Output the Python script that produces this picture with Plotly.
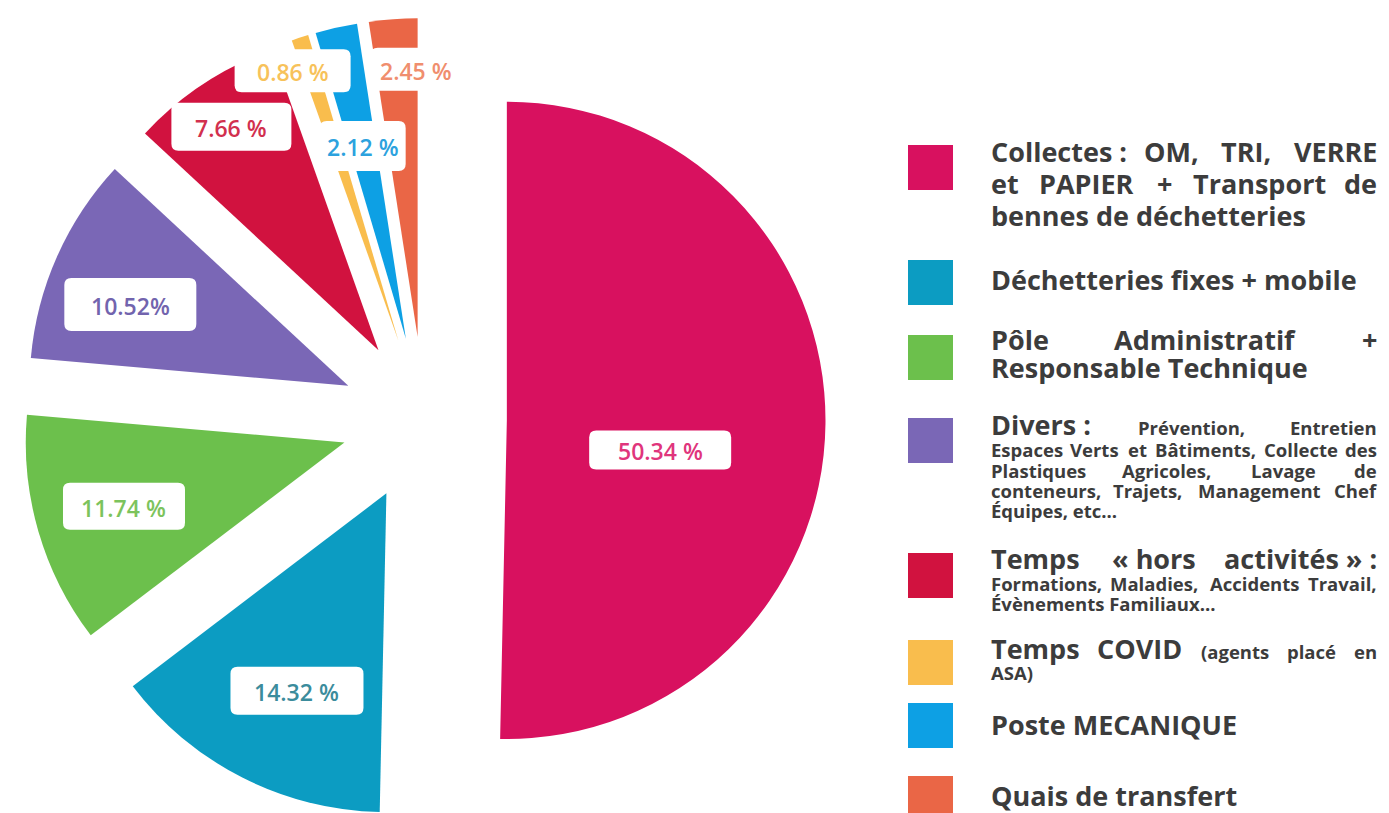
import math
import plotly.graph_objects as go

# ---------------- data ----------------
categories = [
    "Collectes : OM, TRI, VERRE et PAPIER + Transport de bennes de déchetteries",
    "Déchetteries fixes + mobile",
    "Pôle Administratif + Responsable Technique",
    "Divers",
    "Temps « hors activités »",
    "Temps COVID",
    "Poste MECANIQUE",
    "Quais de transfert",
]
values = [50.34, 14.32, 11.74, 10.52, 7.66, 0.86, 2.12, 2.45]
value_labels = ["50.34 %", "14.32 %", "11.74 %", "10.52%", "7.66 %", "0.86 %", "2.12 %", "2.45 %"]

# ---------------- styles ----------------
slice_colors = ["#D8115F", "#0C9CC2", "#6CC04C", "#7A67B6", "#D1123F", "#F9BD4D", "#0DA0E4", "#EA6646"]
label_colors = ["#E0357C", "#3B8C9C", "#7CC35C", "#7264AE", "#D2304E", "#F7C25A", "#2CA2DE", "#F08E6E"]
# label placement relative to each pulled slice: (angle offset in deg, fraction of radius)
label_angle_offset = [10.3, -2.6, 0, -3.5, 0, -3.4, 0, 4.0]
label_radius_frac = [0.49, 0.68, 0.72, 0.73, 0.84, 0.91, 0.62, 0.84]
label_box = [(142, 39), (133, 48), (122, 47), (132, 53), (120, 48), (116, 43), (86, 50), (90, 43)]

W, H = 1389, 813
PULL = 0.26
dom_x = [14.5 / W, 817.5 / W]
dom_y = [0.0, 1 - 10 / H]

fig = go.Figure()
fig.add_trace(go.Pie(
    labels=categories,
    values=values,
    sort=False,
    direction="clockwise",
    rotation=0,
    pull=[PULL] * len(values),
    textinfo="none",
    marker=dict(colors=slice_colors, line=dict(width=0)),
    domain=dict(x=dom_x, y=dom_y),
    showlegend=False,
    hovertemplate="%{label}: %{value} %<extra></extra>",
))


def P(x, y):
    return f"{x / W:.6f},{1 - y / H:.6f}"


def rounded_rect(x0, y0, x1, y1, rad):
    return (f"M {P(x0 + rad, y0)} L {P(x1 - rad, y0)} Q {P(x1, y0)} {P(x1, y0 + rad)} "
            f"L {P(x1, y1 - rad)} Q {P(x1, y1)} {P(x1 - rad, y1)} "
            f"L {P(x0 + rad, y1)} Q {P(x0, y1)} {P(x0, y1 - rad)} "
            f"L {P(x0, y0 + rad)} Q {P(x0, y0)} {P(x0 + rad, y0)} Z")


# pie geometry (same formula plotly uses) to place value boxes
boxW = W * (dom_x[1] - dom_x[0])
boxH = H * (dom_y[1] - dom_y[0])
r = min(boxW, boxH) / (2 + 2 * PULL)
cx = W * (dom_x[0] + dom_x[1]) / 2
cy = H * (1 - dom_y[0]) - boxH / 2
total = sum(values)
cum = 0.0
annotations = []
shapes = []
for i, v in enumerate(values):
    mid = (cum + v / 2) / total * 360.0
    cum += v
    t = math.radians(mid)
    tipx = cx + PULL * r * math.sin(t)
    tipy = cy - PULL * r * math.cos(t)
    la = math.radians(mid + label_angle_offset[i])
    px = tipx + label_radius_frac[i] * r * math.sin(la)
    py = tipy - label_radius_frac[i] * r * math.cos(la)
    bw, bh = label_box[i]
    shapes.append(dict(
        type="path", xref="paper", yref="paper",
        path=rounded_rect(px - bw / 2, py - bh / 2, px + bw / 2, py + bh / 2, 7),
        fillcolor="white", line=dict(width=0), layer="above",
    ))
    annotations.append(dict(
        x=px / W, y=1 - (py + 1.5) / H, xref="paper", yref="paper",
        text=value_labels[i], showarrow=False,
        xanchor="center", yanchor="middle",
        font=dict(family="Open Sans", size=23, weight=600, color=label_colors[i]),
    ))

# ---------------- custom legend ----------------
BIG, SMALL = 27, 18.5
legend_swatch_tops = [137, 252, 327, 410, 545, 632, 695, 768]
SW_X0, SW_SIZE = 900, 45
TX0, TX1 = 982, 1370
TEXT_COLOR = "#3C3C3C"

# each line: (baseline y, [(text, size), ...], justified)
legend_lines = [
    (154, [("Collectes :", BIG), ("OM,", BIG), ("TRI,", BIG), ("VERRE", BIG)], True),
    (186, [("et", BIG), ("PAPIER", BIG), ("+", BIG), ("Transport", BIG), ("de", BIG)], True),
    (218, [("bennes de déchetteries", BIG)], False),
    (282, [("Déchetteries fixes + mobile", BIG)], False),
    (342, [("Pôle", BIG), ("Administratif", BIG), ("+", BIG)], True),
    (370, [("Responsable Technique", BIG)], False),
    (427, [("Divers :", BIG), ("Prévention,", SMALL), ("Entretien", SMALL)], True),
    (449, [("Espaces", SMALL), ("Verts", SMALL), ("et", SMALL), ("Bâtiments,", SMALL), ("Collecte", SMALL), ("des", SMALL)], True),
    (470, [("Plastiques", SMALL), ("Agricoles,", SMALL), ("Lavage", SMALL), ("de", SMALL)], True),
    (490, [("conteneurs,", SMALL), ("Trajets,", SMALL), ("Management", SMALL), ("Chef", SMALL)], True),
    (510, [("Équipes, etc...", SMALL)], False),
    (561, [("Temps", BIG), ("« hors", BIG), ("activités » :", BIG)], True),
    (583, [("Formations,", SMALL), ("Maladies,", SMALL), ("Accidents", SMALL), ("Travail,", SMALL)], True),
    (603, [("Évènements Familiaux...", SMALL)], False),
    (651, [("Temps", BIG), ("COVID", BIG), ("(agents", SMALL), ("placé", SMALL), ("en", SMALL)], True),
    (672, [("ASA)", SMALL)], False),
    (727, [("Poste MECANIQUE", BIG)], False),
    (798, [("Quais de transfert", BIG)], False),
]

# approximate Open Sans Bold advance widths (em)
CW = {" ": 0.26, "(": 0.35, ")": 0.35, "+": 0.57, ",": 0.29, ".": 0.29, ":": 0.29, "%": 0.90,
      "«": 0.55, "»": 0.55}
for ch, w in zip("ABCDEFGHIJKLMNOPQRSTUVWXYZ",
                 [.69, .68, .63, .73, .56, .54, .72, .76, .33, .29, .66, .56, .93, .80, .78, .64, .78, .67, .56, .58, .75, .66, 1.0, .66, .62, .57]):
    CW[ch] = w
for ch, w in zip("abcdefghijklmnopqrstuvwxyz",
                 [.58, .62, .49, .62, .57, .38, .55, .63, .29, .29, .60, .29, .96, .63, .60, .62, .62, .43, .48, .40, .63, .55, .83, .57, .55, .47]):
    CW[ch] = w
ACC = {"é": "e", "è": "e", "ô": "o", "â": "a", "É": "E"}


def text_w(s, size):
    return sum(CW.get(ACC.get(c, c), 0.55) for c in s) * size


def add_word(txt, x, anchor, baseline, size):
    # centre of the text box sits 0.388 em above the baseline for Open Sans
    yc = baseline - 0.388 * size
    annotations.append(dict(
        x=x / W, y=1 - yc / H, xref="paper", yref="paper", text=txt, showarrow=False,
        xanchor=anchor, yanchor="middle", borderpad=0,
        font=dict(family="Open Sans", size=size, weight=700, color=TEXT_COLOR),
    ))


for baseline, words, just in legend_lines:
    if not just or len(words) == 1:
        x = TX0
        for txt, size in words:
            add_word(txt, x, "left", baseline, size)
            x += text_w(txt + " ", size)
        continue
    widths = [text_w(t, s) for t, s in words]
    gap = (TX1 - TX0 - sum(widths)) / (len(words) - 1)
    x = TX0
    for k, ((txt, size), w) in enumerate(zip(words, widths)):
        if k == 0:
            add_word(txt, TX0, "left", baseline, size)
        elif k == len(words) - 1:
            add_word(txt, TX1, "right", baseline, size)
        else:
            add_word(txt, x + w / 2, "center", baseline, size)
        x += w + gap

for top, col in zip(legend_swatch_tops, slice_colors):
    shapes.append(dict(
        type="rect", xref="paper", yref="paper",
        x0=SW_X0 / W, x1=(SW_X0 + SW_SIZE) / W,
        y0=1 - (top + SW_SIZE) / H, y1=1 - top / H,
        fillcolor=col, line=dict(width=0), layer="above",
    ))

fig.update_layout(
    width=W, height=H,
    margin=dict(l=0, r=0, t=0, b=0),
    paper_bgcolor="white", plot_bgcolor="white",
    annotations=annotations, shapes=shapes,
    font=dict(family="Open Sans"),
)

fig.write_html("out.html")
